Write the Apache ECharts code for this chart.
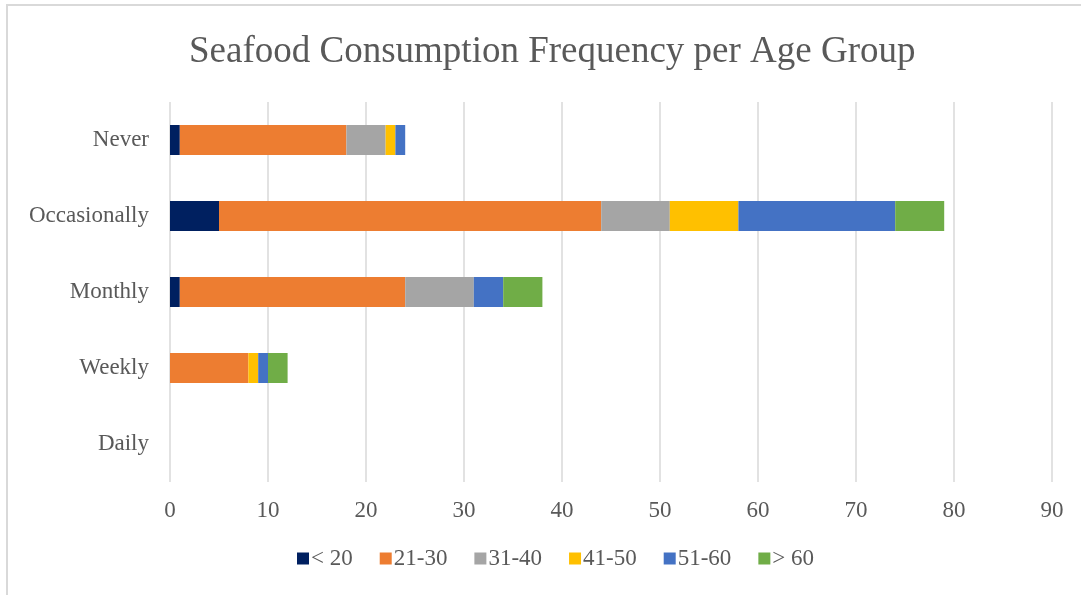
<!DOCTYPE html>
<html>
<head>
<meta charset="utf-8">
<script src="https://cdn.jsdelivr.net/npm/echarts@6/dist/echarts.min.js"></script>
<style>
  html, body { margin: 0; padding: 0; background: #fff; }
  #chart { width: 1081px; height: 595px; }
</style>
</head>
<body>
<div id="chart"></div>
<script>
// Consumption frequency categories (top to bottom)
const categories = ['Never', 'Occasionally', 'Monthly', 'Weekly', 'Daily'];
const ageGroups = ['< 20', '21-30', '31-40', '41-50', '51-60', '> 60'];
const colors = ['#002060', '#ED7D31', '#A5A5A5', '#FFC000', '#4472C4', '#70AD47'];

// Respondent counts per age group, in category order
const under20 = [1, 5, 1, 0, 0];
const age21to30 = [17, 39, 23, 8, 0];
const age31to40 = [4, 7, 7, 0, 0];
const age41to50 = [1, 7, 0, 1, 0];
const age51to60 = [1, 16, 3, 1, 0];
const over60 = [0, 5, 4, 2, 0];
const xTicks = [0, 10, 20, 30, 40, 50, 60, 70, 80, 90];

const seriesValues = [under20, age21to30, age31to40, age41to50, age51to60, over60];
const serif = '"Liberation Serif", "Times New Roman", serif';

const chart = echarts.init(document.getElementById('chart'), null, { renderer: 'canvas' });
chart.setOption({
  animation: false,
  backgroundColor: '#fff',
  title: {
    text: 'Seafood Consumption Frequency per Age Group',
    left: 184,
    top: 29,
    textStyle: { fontFamily: serif, fontSize: 37, fontWeight: 'normal', color: '#595959' }
  },
  legend: {
    bottom: 20,
    left: 292,
    itemWidth: 12,
    itemHeight: 12,
    itemGap: 27,
    icon: 'rect',
    textStyle: { fontFamily: serif, fontSize: 23, color: '#595959', padding: [0, 0, 0, -3] },
    data: ageGroups
  },
  grid: { left: 170, right: 29, top: 102, bottom: 113, containLabel: false },
  xAxis: {
    type: 'value',
    min: xTicks[0],
    max: xTicks[xTicks.length - 1],
    interval: 10,
    axisLine: { show: false },
    axisTick: { show: false },
    axisLabel: { fontFamily: serif, fontSize: 23, color: '#595959', margin: 17 },
    splitLine: { show: true, lineStyle: { color: '#D9D9D9', width: 1.5 } }
  },
  yAxis: {
    type: 'category',
    inverse: true,
    data: categories,
    axisLine: { show: false },
    axisTick: { show: false },
    axisLabel: { fontFamily: serif, fontSize: 23, color: '#595959', margin: 21 }
  },
  graphic: [
    { type: 'line', shape: { x1: 7, y1: 5, x2: 7, y2: 595 }, style: { stroke: '#D9D9D9', lineWidth: 2 } },
    { type: 'line', shape: { x1: 6, y1: 5, x2: 1081, y2: 5 }, style: { stroke: '#D9D9D9', lineWidth: 2 } }
  ],
  series: ageGroups.map((name, i) => ({
    name,
    type: 'bar',
    stack: 'total',
    barWidth: 30,
    data: seriesValues[i],
    itemStyle: { color: colors[i] }
  }))
});
</script>
</body>
</html>
